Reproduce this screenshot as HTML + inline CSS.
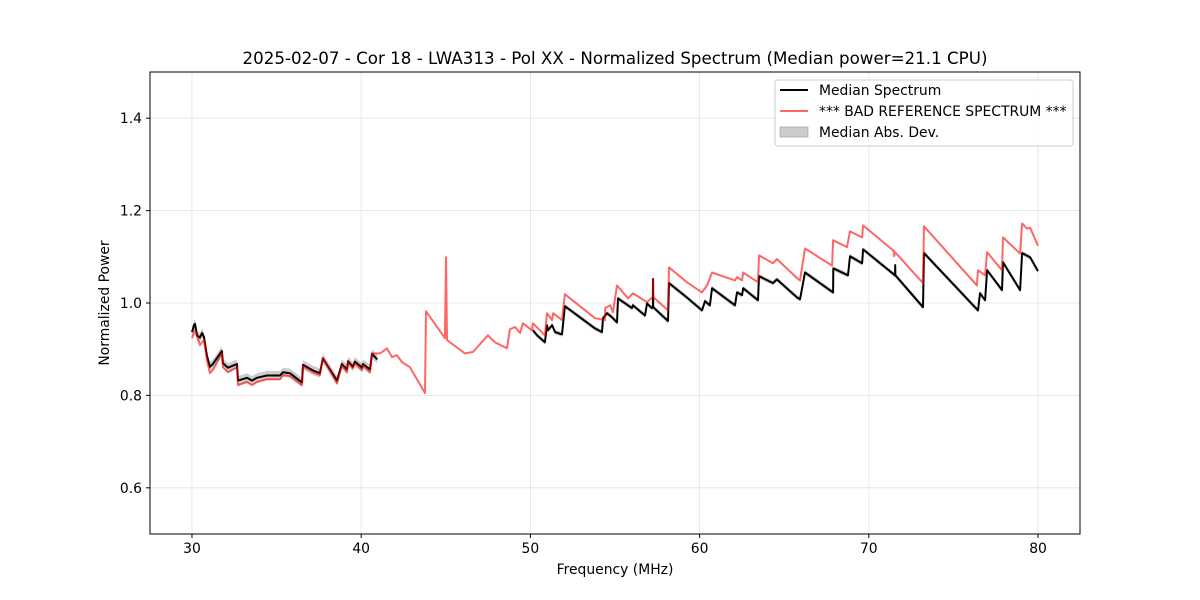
<!DOCTYPE html>
<html><head><meta charset="utf-8"><style>
html,body{margin:0;padding:0;background:#fff;}
svg{display:block;font-family:"DejaVu Sans","Liberation Sans",sans-serif;}
</style></head><body>
<svg id="chart" width="1200" height="600" viewBox="0 0 1200 600" xmlns="http://www.w3.org/2000/svg">
<rect x="0" y="0" width="1200" height="600" fill="#fff"/>
<text x="615" y="64" text-anchor="middle" font-size="16.7" fill="#000">2025-02-07 - Cor 18 - LWA313 - Pol XX - Normalized Spectrum (Median power=21.1 CPU)</text>
<g id="grid"></g>
<g id="series"></g>
<rect x="150" y="72" width="930" height="462" fill="none" stroke="#000" stroke-width="1"/>
<g id="axes"></g>
<text x="615" y="574" text-anchor="middle" font-size="13.9">Frequency (MHz)</text>
<text x="109" y="303" text-anchor="middle" font-size="13.9" transform="rotate(-90 109 303)">Normalized Power</text>
<g>
<rect x="775" y="80" width="298" height="66" rx="3" fill="#fff" fill-opacity="0.8" stroke="#ccc"/>
<g><line x1="780" y1="90" x2="808" y2="90" stroke="#000" stroke-width="2"/><text x="819" y="95" font-size="13.9">Median Spectrum</text></g>
<g><line x1="780" y1="111" x2="808" y2="111" stroke="#f00" stroke-opacity="0.6" stroke-width="2"/><text x="819" y="116" font-size="13.9">*** BAD REFERENCE SPECTRUM ***</text></g>
<g><rect x="780" y="127" width="28" height="10" fill="#000" fill-opacity="0.2" stroke="#999" stroke-width="0.6"/><text x="819" y="137" font-size="13.9">Median Abs. Dev.</text></g>
</g>
</svg>
<script>
const xTicks=[30,40,50,60,70,80];
const yTicks=[0.6,0.8,1.0,1.2,1.4];
const yTickLabels=["0.6","0.8","1.0","1.2","1.4"];
const refFreq=[30.00,30.18,30.47,30.71,30.89,31.06,31.24,31.77,31.83,32.13,32.66,32.72,33.25,33.55,33.84,34.43,35.20,35.38,35.79,36.50,36.56,37.15,37.56,37.74,38.57,38.86,39.16,39.22,39.51,39.63,40.05,40.11,40.52,40.64,41.11,41.23,41.52,41.82,42.11,42.41,42.88,43.77,43.83,44.95,45.01,45.07,46.13,46.61,47.49,47.91,48.62,48.79,49.09,49.39,49.56,50.09,50.15,50.86,50.98,51.28,51.34,51.87,52.04,53.82,54.41,54.42,54.71,54.88,55.12,55.77,56.06,56.89,57.23,57.24,57.25,58.13,58.19,59.25,60.14,60.44,60.73,62.09,62.21,62.51,62.57,63.45,63.51,64.34,64.57,65.76,65.93,66.23,67.83,67.89,68.71,68.89,69.60,69.66,71.43,71.46,71.50,71.55,73.20,73.26,76.39,76.45,76.87,76.99,77.87,77.93,78.94,79.06,79.35,79.53,80.00];
const refPower=[0.924,0.941,0.909,0.920,0.876,0.848,0.855,0.891,0.861,0.850,0.861,0.822,0.829,0.822,0.829,0.835,0.835,0.844,0.842,0.822,0.863,0.850,0.844,0.881,0.826,0.865,0.850,0.872,0.859,0.870,0.855,0.865,0.850,0.891,0.891,0.894,0.902,0.883,0.887,0.872,0.861,0.805,0.982,0.924,1.099,0.920,0.891,0.894,0.930,0.915,0.902,0.943,0.948,0.935,0.956,0.941,0.956,0.930,0.978,0.963,0.978,0.963,1.019,0.967,0.963,0.989,0.995,0.980,1.038,1.010,1.021,1.002,1.013,1.052,1.013,0.984,1.077,1.045,1.023,1.038,1.066,1.049,1.056,1.049,1.066,1.045,1.103,1.086,1.095,1.054,1.049,1.118,1.081,1.136,1.121,1.155,1.142,1.168,1.114,1.114,1.101,1.110,1.043,1.166,1.038,1.071,1.060,1.110,1.071,1.142,1.107,1.172,1.161,1.163,1.124];
const medFreqLow=[30.00,30.12,30.18,30.30,30.47,30.60,30.71,30.89,31.06,31.24,31.77,31.83,32.13,32.66,32.72,33.25,33.55,33.84,34.43,35.20,35.38,35.79,36.50,36.56,37.15,37.56,37.74,38.57,38.86,39.16,39.22,39.51,39.63,40.05,40.11,40.52,40.64,40.95];
const medPowerLow=[0.937,0.952,0.955,0.930,0.925,0.935,0.926,0.885,0.862,0.868,0.896,0.870,0.860,0.868,0.832,0.838,0.832,0.838,0.843,0.843,0.850,0.848,0.828,0.866,0.854,0.848,0.880,0.832,0.868,0.856,0.874,0.862,0.873,0.860,0.868,0.856,0.890,0.878];
const medFreqHigh=[50.15,50.39,50.86,50.98,51.04,51.28,51.46,51.87,52.04,53.82,54.23,54.29,54.53,54.82,55.12,55.18,56.00,56.06,56.77,56.89,57.18,57.24,57.25,57.26,58.13,58.19,59.25,60.14,60.32,60.61,60.73,62.09,62.21,62.51,62.57,63.45,63.51,64.34,64.57,65.76,65.93,66.23,67.89,67.90,68.77,68.89,69.60,69.66,71.55,71.56,71.57,73.20,73.26,76.45,76.57,76.87,76.99,77.87,77.93,78.94,79.06,79.53,80.00];
const medPowerHigh=[0.941,0.930,0.915,0.952,0.941,0.952,0.937,0.932,0.993,0.945,0.937,0.967,0.978,0.969,0.958,1.010,0.989,0.995,0.973,0.999,0.989,0.991,1.052,0.991,0.961,1.043,1.012,0.984,1.004,0.995,1.032,0.995,1.023,1.017,1.032,1.006,1.058,1.043,1.051,1.012,1.008,1.066,1.023,1.075,1.060,1.101,1.086,1.116,1.060,1.082,1.060,0.991,1.108,0.984,1.021,1.006,1.071,1.028,1.088,1.028,1.108,1.099,1.069];
const madLow=0.010;
const madHigh=0.005;

const NS='http://www.w3.org/2000/svg';
const X0=150,X1=1080,Y0=72,Y1=534,XMIN=27.52,XMAX=82.48,YMIN=0.5,YMAX=1.5;
function sx(f){return X0+(f-XMIN)/(XMAX-XMIN)*(X1-X0);}
function sy(v){return Y1-(v-YMIN)/(YMAX-YMIN)*(Y1-Y0);}
function mk(tag,attrs,parent){const e=document.createElementNS(NS,tag);for(const k in attrs)e.setAttribute(k,attrs[k]);parent.appendChild(e);return e;}
const grid=document.getElementById('grid'),axes=document.getElementById('axes'),ser=document.getElementById('series');
xTicks.forEach(t=>{
 const g=mk('line',{x1:sx(t),x2:sx(t),y1:Y0,y2:Y1,stroke:'#b0b0b0','stroke-opacity':0.35,'stroke-width':0.8},grid);
 
 
 const tk=mk('line',{x1:sx(t),x2:sx(t),y1:Y1,y2:Y1+4,stroke:'#000'},axes);
 
 
 const tx=mk('text',{x:sx(t),y:Y1+19,'text-anchor':'middle','font-size':13.9},axes);
 
 
 tx.textContent=String(t);
});
yTicks.forEach((t,i)=>{
 const g=mk('line',{x1:X0,x2:X1,y1:sy(t),y2:sy(t),stroke:'#b0b0b0','stroke-opacity':0.35,'stroke-width':0.8},grid);
 
 
 const tk=mk('line',{x1:X0-4,x2:X0,y1:sy(t),y2:sy(t),stroke:'#000'},axes);
 
 
 const tx=mk('text',{x:X0-8,y:sy(t)+5,'text-anchor':'end','font-size':13.9},axes);
 
 
 tx.textContent=yTickLabels[i];
});
function pts(fs,vs,off){return fs.map((f,i)=>sx(f).toFixed(1)+','+sy(vs[i]+off).toFixed(1));}
function band(fs,vs,m,name){
 const up=pts(fs,vs,m),dn=pts(fs,vs,-m).reverse();
 const p=mk('polygon',{points:up.concat(dn).join(' '),fill:'#000','fill-opacity':0.2},ser);
 
 
}
function line(fs,vs,color,op,name){
 const p=mk('polyline',{points:pts(fs,vs,0).join(' '),fill:'none',stroke:color,'stroke-opacity':op,'stroke-width':2,'stroke-linejoin':'round'},ser);
 
 
}
band(medFreqLow,medPowerLow,madLow,'mad-band-low');
band(medFreqHigh,medPowerHigh,madHigh,'mad-band-high');
line(medFreqLow,medPowerLow,'#000',1,'median-line-low');
line(medFreqHigh,medPowerHigh,'#000',1,'median-line-high');
line(refFreq,refPower,'#f00',0.6,'reference-line');
</script>
</body></html>
